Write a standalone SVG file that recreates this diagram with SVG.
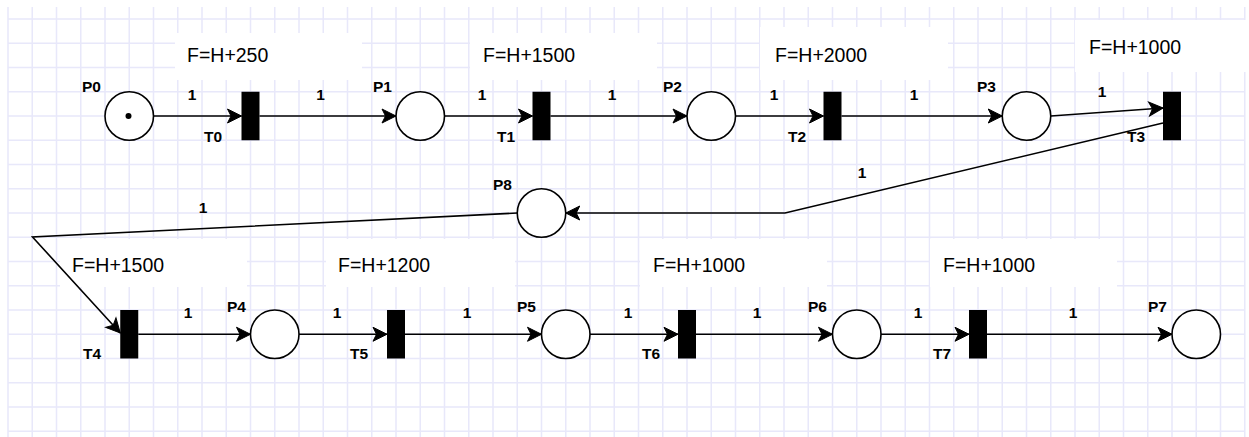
<svg xmlns="http://www.w3.org/2000/svg" width="1249" height="437" viewBox="0 0 1249 437">
<style>
.bg{fill:#ffffff}
.grid{stroke:#e8e8fa;stroke-width:1.5;fill:none}
.lbox{fill:#ffffff}
.place{fill:#ffffff;stroke:#000;stroke-width:1.6}
.trans{fill:#000}
.edge{fill:none;stroke:#000;stroke-width:1.6;marker-end:url(#arr)}
.nm{font-family:"Liberation Sans",Arial,Helvetica,sans-serif;font-size:15.5px;font-weight:bold;fill:#000}
.w{font-family:"Liberation Sans",Arial,Helvetica,sans-serif;font-size:15.5px;font-weight:bold;fill:#000;text-anchor:middle}
.fn{font-family:"Liberation Sans",Arial,Helvetica,sans-serif;font-size:19.5px;fill:#000}
</style>
<defs>
<marker id="arr" markerUnits="userSpaceOnUse" markerWidth="20" markerHeight="20" refX="0" refY="0" orient="auto" style="overflow:visible">
<path d="M0,0 L-14,-7 L-10.5,0 L-14,7 Z" fill="#000" stroke="#000" stroke-width="1" stroke-linejoin="miter"/>
</marker>
</defs>
<rect class="bg" x="0" y="0" width="1249" height="437"/>
<g id="grid">
<path class="grid" d="M8,7V437M32.25,7V437M56.5,7V437M80.75,7V437M105,7V437M129.25,7V437M153.5,7V437M177.75,7V437M202,7V437M226.25,7V437M250.5,7V437M274.75,7V437M299,7V437M323.25,7V437M347.5,7V437M371.75,7V437M396,7V437M420.25,7V437M444.5,7V437M468.75,7V437M493,7V437M517.25,7V437M541.5,7V437M565.75,7V437M590,7V437M614.25,7V437M638.5,7V437M662.75,7V437M687,7V437M711.25,7V437M735.5,7V437M759.75,7V437M784,7V437M808.25,7V437M832.5,7V437M856.75,7V437M881,7V437M905.25,7V437M929.5,7V437M953.75,7V437M978,7V437M1002.25,7V437M1026.5,7V437M1050.75,7V437M1075,7V437M1099.25,7V437M1123.5,7V437M1147.75,7V437M1172,7V437M1196.25,7V437M1220.5,7V437M1244.75,7V437"/>
<path class="grid" d="M8,19H1245M8,43.25H1245M8,67.5H1245M8,91.75H1245M8,116H1245M8,140.25H1245M8,164.5H1245M8,188.75H1245M8,213H1245M8,237.25H1245M8,261.5H1245M8,285.75H1245M8,310H1245M8,334.25H1245M8,358.5H1245M8,382.75H1245M8,407H1245M8,431.25H1245"/>
</g>
<g id="firing-labels">
<g id="f-T0"><rect class="lbox" x="175" y="33" width="187" height="47"/><text class="fn" x="187" y="62">F=H+250</text></g>
<g id="f-T1"><rect class="lbox" x="470" y="33" width="187" height="47"/><text class="fn" x="483" y="62">F=H+1500</text></g>
<g id="f-T2"><rect class="lbox" x="760" y="27" width="188" height="53"/><text class="fn" x="775" y="62">F=H+2000</text></g>
<g id="f-T3"><rect class="lbox" x="1075" y="20" width="174" height="52"/><text class="fn" x="1089" y="54">F=H+1000</text></g>
<g id="f-T4"><rect class="lbox" x="60" y="239" width="187" height="48"/><text class="fn" x="72" y="272">F=H+1500</text></g>
<g id="f-T5"><rect class="lbox" x="326" y="239" width="189" height="48"/><text class="fn" x="338" y="272">F=H+1200</text></g>
<g id="f-T6"><rect class="lbox" x="640" y="239" width="187" height="48"/><text class="fn" x="653" y="272">F=H+1000</text></g>
<g id="f-T7"><rect class="lbox" x="930" y="239" width="187" height="48"/><text class="fn" x="943" y="272">F=H+1000</text></g>
</g>
<g id="connectors">
<path class="edge" d="M153.5,116H241.5"/>
<path class="edge" d="M259.5,116H396"/>
<path class="edge" d="M444.5,116H532.5"/>
<path class="edge" d="M550.5,116H687"/>
<path class="edge" d="M735.5,116H823.5"/>
<path class="edge" d="M841.5,116H1002.25"/>
<path class="edge" d="M1050.75,116L1163,108"/>
<path class="edge" d="M1163,123L785,213H565.75"/>
<path class="edge" d="M517.25,213L32.5,237L120.25,333"/>
<path class="edge" d="M138.25,334.25H250.5"/>
<path class="edge" d="M299,334.25H387"/>
<path class="edge" d="M405,334.25H541.5"/>
<path class="edge" d="M590,334.25H678"/>
<path class="edge" d="M696,334.25H832.5"/>
<path class="edge" d="M881,334.25H969"/>
<path class="edge" d="M987,334.25H1172"/>
<text class="w" x="192" y="100">1</text>
<text class="w" x="320.5" y="100">1</text>
<text class="w" x="482" y="100">1</text>
<text class="w" x="612" y="100">1</text>
<text class="w" x="774" y="100">1</text>
<text class="w" x="914" y="100">1</text>
<text class="w" x="1102" y="97">1</text>
<text class="w" x="862" y="178">1</text>
<text class="w" x="203" y="213">1</text>
<text class="w" x="188" y="318">1</text>
<text class="w" x="337" y="318">1</text>
<text class="w" x="467" y="318">1</text>
<text class="w" x="628" y="318">1</text>
<text class="w" x="757" y="318">1</text>
<text class="w" x="918" y="318">1</text>
<text class="w" x="1073" y="318">1</text>
</g>
<g id="P0"><circle class="place" cx="129.25" cy="116" r="24.25"/><circle cx="128.5" cy="116" r="3" fill="#000"/><text class="nm" x="82" y="92">P0</text></g>
<g id="P1"><circle class="place" cx="420.25" cy="116" r="24.25"/><text class="nm" x="373" y="92">P1</text></g>
<g id="P2"><circle class="place" cx="711.25" cy="116" r="24.25"/><text class="nm" x="663" y="92">P2</text></g>
<g id="P3"><circle class="place" cx="1026.5" cy="116" r="24.25"/><text class="nm" x="977" y="92">P3</text></g>
<g id="P8"><circle class="place" cx="541.5" cy="213" r="24.25"/><text class="nm" x="493" y="190">P8</text></g>
<g id="P4"><circle class="place" cx="274.75" cy="334.25" r="24.25"/><text class="nm" x="227" y="312">P4</text></g>
<g id="P5"><circle class="place" cx="565.75" cy="334.25" r="24.25"/><text class="nm" x="517" y="312">P5</text></g>
<g id="P6"><circle class="place" cx="856.75" cy="334.25" r="24.25"/><text class="nm" x="808" y="312">P6</text></g>
<g id="P7"><circle class="place" cx="1196.25" cy="334.25" r="24.25"/><text class="nm" x="1148" y="312">P7</text></g>
<g id="T0"><rect class="trans" x="241.5" y="91.75" width="18" height="48.5"/><text class="nm" x="204" y="142">T0</text></g>
<g id="T1"><rect class="trans" x="532.5" y="91.75" width="18" height="48.5"/><text class="nm" x="497" y="142">T1</text></g>
<g id="T2"><rect class="trans" x="823.5" y="91.75" width="18" height="48.5"/><text class="nm" x="788" y="142">T2</text></g>
<g id="T3"><rect class="trans" x="1163" y="91.75" width="18" height="48.5"/><text class="nm" x="1127" y="142">T3</text></g>
<g id="T4"><rect class="trans" x="120.25" y="310" width="18" height="48.5"/><text class="nm" x="83" y="359">T4</text></g>
<g id="T5"><rect class="trans" x="387" y="310" width="18" height="48.5"/><text class="nm" x="350" y="359">T5</text></g>
<g id="T6"><rect class="trans" x="678" y="310" width="18" height="48.5"/><text class="nm" x="642" y="359">T6</text></g>
<g id="T7"><rect class="trans" x="969" y="310" width="18" height="48.5"/><text class="nm" x="933" y="359">T7</text></g>
</svg>
